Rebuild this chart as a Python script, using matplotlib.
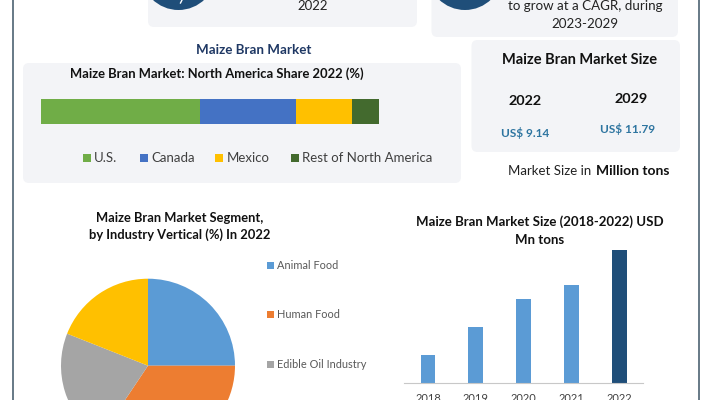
import matplotlib.pyplot as plt
from matplotlib.patches import Circle, FancyBboxPatch, Rectangle

plt.rcParams["font.family"] = ["Lato", "DejaVu Sans"]

W, H = 706, 400

share_labels = ["U.S.", "Canada", "Mexico", "Rest of North America"]
share_values = [47.0, 28.4, 16.6, 8.0]
share_colors = ["#70ad47", "#4472c4", "#ffc000", "#436a2e"]

segment_labels = ["Animal Food", "Human Food", "Edible Oil Industry", "Others"]
segment_values = [25.0, 34.4, 21.6, 19.0]
segment_colors = ["#5b9bd5", "#ed7d31", "#a5a5a5", "#ffc000"]

years = ["2018", "2019", "2020", "2021", "2022"]
size_values = [28, 56, 84, 98, 133]
size_colors = ["#5b9bd5", "#5b9bd5", "#5b9bd5", "#5b9bd5", "#1f4e79"]


def px_axes(fig, left, top, right, bottom):
    # axes placed by pixel box, y measured from the top of the picture
    return fig.add_axes([left / W, 1 - bottom / H, (right - left) / W, (bottom - top) / H])


fig = plt.figure(figsize=(W / 100, H / 100), dpi=100, facecolor="white")

# Background layer in pixel coordinates
bg = fig.add_axes([0, 0, 1, 1])
bg.set_xlim(0, W)
bg.set_ylim(H, 0)
bg.axis("off")

bg.plot([12.5, 12.5], [0, H], color="#3d5566", lw=1.1)
bg.plot([698.5, 698.5], [0, H], color="#3d5566", lw=1.1)

panels = [(148, -20, 417, 27), (431.5, -20, 678, 37), (471.5, 40, 680, 152), (23, 63, 461, 183)]
for x0, y0, x1, y1 in panels:
    bg.add_patch(FancyBboxPatch((x0 + 5, y0 + 5), x1 - x0 - 10, y1 - y0 - 10,
                                boxstyle="round,pad=5,rounding_size=6", fc="#f3f4f7", ec="none"))

for cx in [178.5, 465]:
    bg.add_patch(Circle((cx, -27.5), 37.5, fc="#1f4e79", ec="none"))
bg.plot([180.5, 182], [3, 0], color="white", lw=1)


def label(x, y, s, size, color="#111111", weight="normal", ha="center"):
    # +1 brings the glyphs down onto the measured centre line
    bg.text(x, y + 1, s, fontsize=size, color=color, fontweight=weight, ha=ha, va="center")


label(312.5, 5, "2022", 9.5, "#222222")
label(585, 5, "to grow at a CAGR, during", 9.6, "#222222")
label(585, 23, "2023-2029", 9.6, "#222222")

label(254, 48.5, "Maize Bran Market", 9.6, "#1f3864", "bold")
label(217, 73, "Maize Bran Market: North America Share 2022 (%)", 9.35, weight="bold")
label(580, 59, "Maize Bran Market Size", 10.5, weight="bold")
label(525, 100, "2022", 10.4, weight="bold")
label(631, 98, "2029", 10.4, weight="bold")
label(525, 132, "US$ 9.14", 8.5, "#2e75a0", "bold")
label(628, 128, "US$ 11.79", 8.5, "#2e75a0", "bold")
label(507.5, 170, "Market Size in", 9.5, "#222222", ha="left")
label(595.5, 170, "Million tons", 10, weight="bold", ha="left")

label(180, 217.5, "Maize Bran Market Segment,", 9.3, weight="bold")
label(180, 234, "by Industry Vertical (%) In 2022", 9.3, weight="bold")
label(540, 220.5, "Maize Bran Market Size (2018-2022) USD", 9.5, weight="bold")
label(540, 238.5, "Mn tons", 9.5, weight="bold")

# Stacked share bar
ax_share = px_axes(fig, 41, 99, 379, 124)
left = 0
for val, col in zip(share_values, share_colors):
    ax_share.barh(0, val, left=left, height=1, color=col)
    left += val
ax_share.set_xlim(0, sum(share_values))
ax_share.set_ylim(-0.5, 0.5)
ax_share.axis("off")

# Legend of the stacked bar
share_key_x = [82.5, 139.5, 215, 291]
for kx, name, col in zip(share_key_x, share_labels, share_colors):
    bg.add_patch(Rectangle((kx, 153.5), 8, 8.5, fc=col, ec="none"))
    label(kx + 11.5, 157, name, 9.55, "#404040", ha="left")

# Pie, runs past the bottom edge of the picture
ax_pie = px_axes(fig, 61, 278.7, 235, 452.7)
ax_pie.pie(segment_values, colors=segment_colors, startangle=90, counterclock=False, radius=1)
ax_pie.set_xlim(-1, 1)
ax_pie.set_ylim(-1, 1)

segment_key_y = [265.5, 314.5, 364]
for ky, name, col in zip(segment_key_y, segment_labels, segment_colors):
    bg.add_patch(Rectangle((267, ky - 3.5), 7, 7, fc=col, ec="none"))
    label(277, ky - 1, name, 7.9, "#595959", ha="left")

# Market size bars
ax_size = px_axes(fig, 404, 250, 643.3, 383)
ax_size.bar(years, size_values, width=0.31, color=size_colors)
ax_size.set_xlim(-0.5, 4.5)
ax_size.set_ylim(0, max(size_values))
ax_size.set_yticks([])
for side in ["top", "left", "right"]:
    ax_size.spines[side].set_visible(False)
ax_size.spines["bottom"].set_color("#c8c8c8")
ax_size.tick_params(axis="x", length=0, pad=7.5, labelsize=8, labelcolor="#404040")
ax_size.patch.set_alpha(0)

fig.savefig("out.png", dpi=100)
